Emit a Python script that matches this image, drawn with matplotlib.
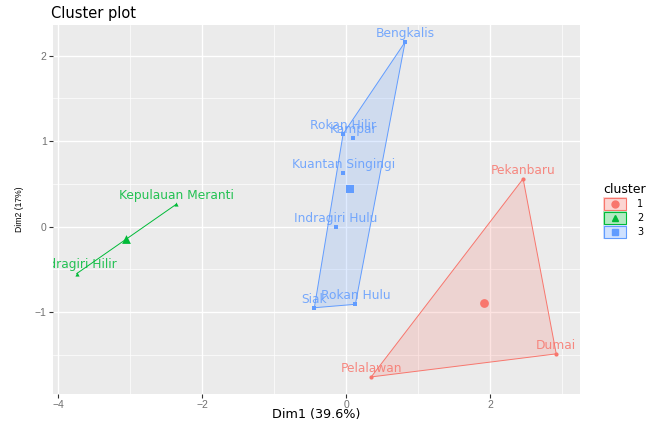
import numpy as np
import matplotlib
matplotlib.use("Agg")
import matplotlib.pyplot as plt
from matplotlib.patches import Polygon, Rectangle
from matplotlib.lines import Line2D

plt.rcParams['font.family'] = ['DejaVu Sans']

# ---- data ----
names = ["Bengkalis", "Rokan Hilir", "Kampar", "Kuantan Singingi", "Indragiri Hulu",
         "Siak", "Rokan Hulu", "Pekanbaru", "Dumai", "Pelalawan",
         "Kepulauan Meranti", "Indragiri Hilir"]
dim1 = [0.82, -0.04, 0.10, -0.04, -0.14, -0.44, 0.13, 2.46, 2.92, 0.35, -2.36, -3.74]
dim2 = [2.16, 1.085, 1.04, 0.63, -0.01, -0.95, -0.91, 0.56, -1.49, -1.76, 0.26, -0.55]
cluster = [3, 3, 3, 3, 3, 3, 3, 1, 1, 1, 2, 2]
cluster_ids = [1, 2, 3]
cluster_colors = {1: "#F8766D", 2: "#00BA38", 3: "#619CFF"}
cluster_markers = {1: "o", 2: "^", 3: "s"}
xticks = [-4, -2, 0, 2]
yticks = [-1, 0, 1, 2]


def convex_hull(pts):
    pts = sorted(set(pts))
    if len(pts) <= 2:
        return pts
    def cross(o, a, b):
        return (a[0]-o[0])*(b[1]-o[1]) - (a[1]-o[1])*(b[0]-o[0])
    lower, upper = [], []
    for p in pts:
        while len(lower) >= 2 and cross(lower[-2], lower[-1], p) <= 0:
            lower.pop()
        lower.append(p)
    for p in reversed(pts):
        while len(upper) >= 2 and cross(upper[-2], upper[-1], p) <= 0:
            upper.pop()
        upper.append(p)
    return lower[:-1] + upper[:-1]


W, H = 648, 423
fig = plt.figure(figsize=(W/100, H/100), dpi=100)
ax = fig.add_axes([53/W, (H-394)/H, 527/W, 369/H])
ax.set_facecolor("#EBEBEB")
ax.set_xlim(-4.07, 3.25)
ax.set_ylim(-1.96, 2.36)

ax.set_xticks(xticks)
ax.set_yticks(yticks)
ax.set_xticks([-3, -1, 1, 3], minor=True)
ax.set_yticks([-1.5, -0.5, 0.5, 1.5], minor=True)
ax.grid(True, which="major", color="white", linewidth=1.0)
ax.grid(True, which="minor", color="white", linewidth=0.5)
ax.set_axisbelow(True)
for s in ax.spines.values():
    s.set_visible(False)
ax.tick_params(axis="both", which="major", length=3, color="#333333",
               labelcolor="#707070", labelsize=7.5, pad=1.5)
ax.tick_params(axis="both", which="minor", length=0)
for lbl in ax.get_xticklabels() + ax.get_yticklabels():
    lbl.set_family("Liberation Sans")

x = np.array(dim1)
y = np.array(dim2)
c = np.array(cluster)

for k in cluster_ids:
    col = cluster_colors[k]
    m = c == k
    hull = convex_hull(list(zip(x[m], y[m])))
    if len(hull) >= 3:
        ax.add_patch(Polygon(hull, closed=True, facecolor=col, alpha=0.2,
                             edgecolor="none", zorder=1))
        ax.add_patch(Polygon(hull, closed=True, facecolor="none",
                             edgecolor=col, linewidth=0.7, zorder=2))
    else:
        hx, hy = zip(*hull)
        ax.plot(hx, hy, color=col, linewidth=0.7, zorder=2)
    ax.scatter(x[m], y[m], marker=cluster_markers[k], s=9, color=col, zorder=3,
               linewidths=0)
    ax.scatter([x[m].mean()], [y[m].mean()], marker=cluster_markers[k], s=40,
               color=col, zorder=3, linewidths=0)

for n, xi, yi, k in zip(names, dim1, dim2, cluster):
    ax.annotate(n, (xi, yi), xytext=(0, 1.5), textcoords="offset points",
                ha="center", va="bottom", fontsize=8.8,
                color=cluster_colors[k], alpha=0.85, zorder=4, annotation_clip=False,
                clip_on=True)

ax.set_xlabel("Dim1 (39.6%)", fontsize=9.2)
ax.xaxis.set_label_coords(0.5, -0.037)
ax.set_ylabel("Dim2 (17%)", fontsize=6.2, family="Liberation Sans")
ax.yaxis.set_label_coords(-0.055, 0.5)
ax.set_title("Cluster plot", loc="left", fontsize=10.5, pad=5, x=-0.004)

# ---- legend (drawn in pixel coordinates of the figure) ----
def px(xp, yp):
    return xp / W, 1 - yp / H

fig.text(*px(603, 193), "cluster", fontsize=9, ha="left", va="baseline")
key_top = 197
key_h = 14
for i, k in enumerate(cluster_ids):
    col = cluster_colors[k]
    y0 = key_top + i * key_h
    x0, y1 = px(603, y0 + key_h)
    wk = 24 / W
    hk = key_h / H
    fig.add_artist(Rectangle((x0, y1), wk, hk, transform=fig.transFigure,
                             facecolor="white", edgecolor="none"))
    fig.add_artist(Rectangle((x0, y1), wk, hk, transform=fig.transFigure,
                             facecolor=col, alpha=0.3, edgecolor="none"))
    fig.add_artist(Rectangle((x0 + 0.6/W, y1 + 0.6/H), wk - 1.2/W, hk - 1.2/H,
                             transform=fig.transFigure, facecolor="none",
                             edgecolor=col, linewidth=0.8))
    cx, cy = px(615, y0 + key_h / 2)
    fig.add_artist(Line2D([cx], [cy], marker=cluster_markers[k], color=col,
                          markersize=5, linestyle="none", transform=fig.transFigure))
    fig.text(*px(637, y0 + key_h / 2), str(k), fontsize=7, ha="left", va="center")

fig.savefig("out.png", dpi=100)
